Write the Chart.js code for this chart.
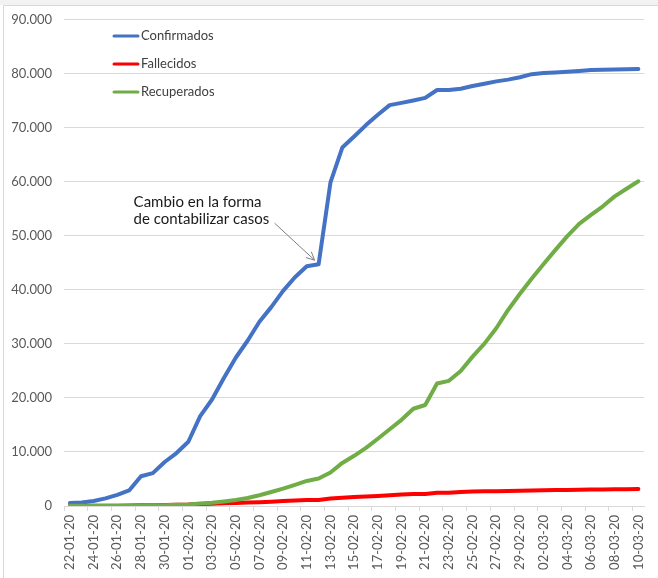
<!DOCTYPE html>
<html>
<head>
<meta charset="utf-8">
<script src="https://cdn.jsdelivr.net/npm/chart.js@4.4.1/dist/chart.umd.min.js"></script>
<style>
  body { margin: 0; background: #ffffff; }
  #topband { position: absolute; left: 0; top: 0; width: 658px; height: 5px; background: #f2f2f2; }
  #frame { position: absolute; left: 3px; top: 5px; width: 700px; height: 600px;
           border-top: 1px solid #d9d9d9; border-left: 1px solid #d9d9d9; }
  #chart { position: absolute; left: 0; top: 0; }
</style>
</head>
<body>
<div id="topband"></div>
<div id="frame"></div>
<canvas id="chart" width="658" height="578"></canvas>
<script>
// Daily dates 22-01-20 .. 10-03-20
const dates = [
  '22-01-20','23-01-20','24-01-20','25-01-20','26-01-20','27-01-20','28-01-20','29-01-20','30-01-20','31-01-20',
  '01-02-20','02-02-20','03-02-20','04-02-20','05-02-20','06-02-20','07-02-20','08-02-20','09-02-20','10-02-20',
  '11-02-20','12-02-20','13-02-20','14-02-20','15-02-20','16-02-20','17-02-20','18-02-20','19-02-20','20-02-20',
  '21-02-20','22-02-20','23-02-20','24-02-20','25-02-20','26-02-20','27-02-20','28-02-20','29-02-20','01-03-20',
  '02-03-20','03-03-20','04-03-20','05-03-20','06-03-20','07-03-20','08-03-20','09-03-20','10-03-20'
];

const confirmados = [
  548, 643, 920, 1406, 2075, 2877, 5509, 6087, 8141, 9802,
  11891, 16630, 19716, 23707, 27440, 30587, 34110, 36814, 39829, 42354,
  44386, 44759, 59895, 66358, 68413, 70513, 72434, 74211, 74619, 75077,
  75550, 77001, 77022, 77241, 77754, 78166, 78600, 78928, 79356, 79932,
  80136, 80261, 80386, 80537, 80690, 80770, 80823, 80860, 80887
];

const fallecidos = [
  17, 18, 26, 42, 56, 82, 131, 133, 171, 213,
  259, 361, 425, 490, 562, 632, 717, 804, 904, 1011,
  1111, 1116, 1368, 1520, 1662, 1765, 1863, 2002, 2114, 2236,
  2236, 2441, 2443, 2593, 2663, 2715, 2744, 2788, 2835, 2870,
  2912, 2945, 2981, 3013, 3045, 3073, 3099, 3123, 3139
];

const recuperados = [
  28, 30, 36, 39, 49, 58, 101, 120, 135, 214,
  275, 463, 614, 843, 1115, 1476, 1998, 2595, 3218, 3917,
  4635, 5079, 6213, 7973, 9294, 10748, 12455, 14199, 15952, 18002,
  18693, 22687, 23170, 24990, 27650, 30053, 32898, 36291, 39279, 42118,
  44810, 47404, 49955, 52240, 53888, 55478, 57320, 58735, 60106
];

const noteLines = ['Cambio en la forma', 'de contabilizar casos'];
const noteIndex = 21; // 12-02-20, last day before the jump

const FONT = 'Lato, "Open Sans", sans-serif';

function fmtMiles(v) {
  return String(v).replace(/\B(?=(\d{3})+(?!\d))/g, '.');
}

// legend drawn inside the plot, top-left, one entry per line
const insideLegend = {
  id: 'insideLegend',
  afterDraw(chart) {
    const ctx = chart.ctx;
    ctx.save();
    ctx.font = '13px ' + FONT;
    ctx.textBaseline = 'middle';
    chart.data.datasets.forEach((ds, i) => {
      const y = 36 + i * 28;
      ctx.strokeStyle = ds.borderColor;
      ctx.lineWidth = 3;
      ctx.lineCap = 'round';
      ctx.beginPath();
      ctx.moveTo(114, y);
      ctx.lineTo(138, y);
      ctx.stroke();
      ctx.fillStyle = '#404040';
      ctx.fillText(ds.label, 141, y);
    });
    ctx.restore();
  }
};

// text + arrow pointing to the day before the counting change
const changeNote = {
  id: 'changeNote',
  afterDraw(chart) {
    const ctx = chart.ctx;
    const xs = chart.scales.x, ys = chart.scales.y;
    const px = xs.getPixelForValue(noteIndex);
    const py = ys.getPixelForValue(confirmados[noteIndex]);
    const tipX = px - 4, tipY = py - 4;
    const startX = tipX - 40, startY = tipY - 37;
    ctx.save();
    ctx.strokeStyle = '#7f7f7f';
    ctx.lineWidth = 1;
    ctx.beginPath();
    ctx.moveTo(startX, startY);
    ctx.lineTo(tipX, tipY);
    ctx.stroke();
    const ang = Math.atan2(tipY - startY, tipX - startX);
    const len = 9, spread = 0.45;
    ctx.beginPath();
    ctx.moveTo(tipX - len * Math.cos(ang - spread), tipY - len * Math.sin(ang - spread));
    ctx.lineTo(tipX, tipY);
    ctx.lineTo(tipX - len * Math.cos(ang + spread), tipY - len * Math.sin(ang + spread));
    ctx.stroke();
    ctx.fillStyle = '#1a1a1a';
    ctx.font = '15px ' + FONT;
    ctx.textBaseline = 'alphabetic';
    ctx.fillText(noteLines[0], tipX - 181, tipY - 53);
    ctx.fillText(noteLines[1], tipX - 181, tipY - 36);
    ctx.restore();
  }
};

const ctx = document.getElementById('chart').getContext('2d');
new Chart(ctx, {
  type: 'line',
  data: {
    labels: dates,
    datasets: [
      { label: 'Confirmados', data: confirmados, borderColor: '#4472C4', order: 2 },
      { label: 'Fallecidos', data: fallecidos, borderColor: '#FF0000', order: 1 },
      { label: 'Recuperados', data: recuperados, borderColor: '#70AD47', order: 0 }
    ]
  },
  options: {
    responsive: false,
    animation: false,
    layout: { padding: { top: 11, right: 3, left: 0, bottom: 0 } },
    elements: {
      line: { borderWidth: 4, tension: 0, borderJoinStyle: 'round', borderCapStyle: 'round', fill: false },
      point: { radius: 0, hoverRadius: 0 }
    },
    plugins: {
      legend: { display: false },
      tooltip: { enabled: false }
    },
    scales: {
      x: {
        offset: true,
        grid: {
          drawOnChartArea: false,
          offset: true,
          tickLength: 5,
          color: (c) => (c.index % 2 === 0 ? '#d9d9d9' : 'rgba(0,0,0,0)')
        },
        border: { color: '#d9d9d9' },
        ticks: {
          autoSkip: false,
          minRotation: 90,
          maxRotation: 90,
          padding: 4,
          color: '#595959',
          font: { family: FONT, size: 13 },
          callback: function (val, i) { return i % 2 === 0 ? this.getLabelForValue(val) : ''; }
        },
        afterFit: (s) => { s.height = 72; }
      },
      y: {
        min: 0,
        max: 90000,
        grid: { color: '#d9d9d9', drawTicks: false },
        border: { display: false },
        ticks: {
          stepSize: 10000,
          padding: 12,
          color: '#595959',
          font: { family: FONT, size: 13 },
          callback: (v) => fmtMiles(v)
        },
        afterFit: (s) => { s.width = 64; }
      }
    }
  },
  plugins: [insideLegend, changeNote]
});
</script>
</body>
</html>
